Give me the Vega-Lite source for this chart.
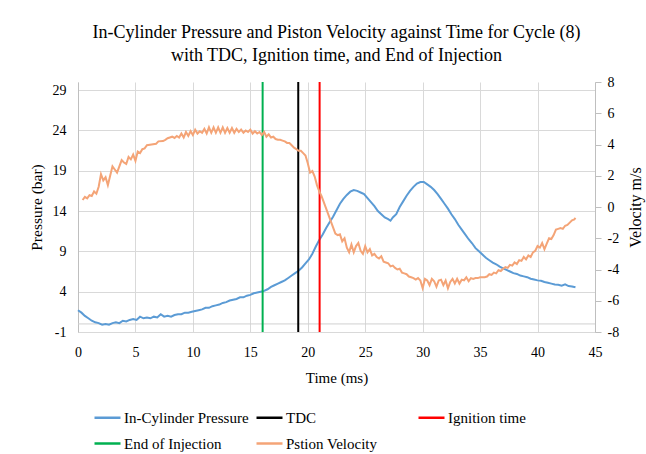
{
  "$schema": "https://vega.github.io/schema/vega-lite/v6.json",
  "width": 517,
  "height": 250,
  "autosize": {"type": "none"},
  "padding": {"left": 78, "top": 82, "right": 51, "bottom": 122},
  "background": "white",
  "config": {
    "font": "Liberation Serif",
    "view": {"stroke": null},
    "style": {"guide-label": {"font": "Liberation Serif"}, "guide-title": {"font": "Liberation Serif"}},
    "axis": {"labelFont": "Liberation Serif", "titleFont": "Liberation Serif", "labelColor": "#000000", "titleColor": "#000000", "titleFontWeight": "normal", "labelFontSize": 14, "titleFontSize": 15, "gridColor": "#D9D9D9", "gridWidth": 1, "domainColor": "#BFBFBF", "labelExpr": "'' + datum.value"},
    "legend": {
      "orient": "none", "legendX": 15, "legendY": 321, "direction": "horizontal", "columns": 3, "gridAlign": "all",
      "columnPadding": 2, "rowPadding": 3, "symbolType": "stroke", "symbolSize": 676, "symbolStrokeWidth": 2.5,
      "labelFont": "Liberation Serif", "labelFontSize": 15, "labelColor": "#000000", "labelOffset": 2, "labelLimit": 300
    },
    "title": {"font": "Liberation Serif", "fontSize": 18, "fontWeight": "normal", "color": "#000000"}
  },
  "title": {
    "text": ["In-Cylinder Pressure and Piston Velocity against Time for Cycle (8)", "with TDC, Ignition time, and End of Injection"],
    "anchor": "middle", "lineHeight": 23, "offset": 10
  },
  "datasets": {
    "pressure": [
      {"t": 0.0, "p": 1.7}, {"t": 0.3, "p": 1.4}, {"t": 0.6, "p": 1.0}, {"t": 0.9, "p": 0.7}, {"t": 1.2, "p": 0.4}, {"t": 1.5, "p": 0.2},
      {"t": 1.8, "p": 0.1}, {"t": 2.1, "p": -0.1}, {"t": 2.4, "p": 0.0}, {"t": 2.7, "p": -0.1}, {"t": 3.0, "p": 0.1}, {"t": 3.3, "p": 0.2},
      {"t": 3.6, "p": 0.1}, {"t": 3.9, "p": 0.4}, {"t": 4.2, "p": 0.3}, {"t": 4.5, "p": 0.5}, {"t": 4.8, "p": 0.6}, {"t": 5.1, "p": 0.5},
      {"t": 5.4, "p": 0.9}, {"t": 5.7, "p": 0.7}, {"t": 6.0, "p": 0.8}, {"t": 6.3, "p": 0.7}, {"t": 6.6, "p": 0.9}, {"t": 6.9, "p": 0.8},
      {"t": 7.2, "p": 1.2}, {"t": 7.5, "p": 0.9}, {"t": 7.8, "p": 1.0}, {"t": 8.1, "p": 0.9}, {"t": 8.4, "p": 1.1}, {"t": 8.7, "p": 1.2},
      {"t": 9.0, "p": 1.2}, {"t": 9.3, "p": 1.4}, {"t": 9.6, "p": 1.4}, {"t": 9.9, "p": 1.5}, {"t": 10.2, "p": 1.6}, {"t": 10.5, "p": 1.7},
      {"t": 10.8, "p": 1.8}, {"t": 11.1, "p": 2.0}, {"t": 11.4, "p": 2.0}, {"t": 11.7, "p": 2.2}, {"t": 12.0, "p": 2.3}, {"t": 12.3, "p": 2.4},
      {"t": 12.6, "p": 2.6}, {"t": 12.9, "p": 2.7}, {"t": 13.2, "p": 2.9}, {"t": 13.5, "p": 3.0}, {"t": 13.8, "p": 3.1}, {"t": 14.1, "p": 3.3},
      {"t": 14.4, "p": 3.3}, {"t": 14.7, "p": 3.5}, {"t": 15.0, "p": 3.6}, {"t": 15.3, "p": 3.8}, {"t": 15.6, "p": 3.9}, {"t": 15.9, "p": 4.0},
      {"t": 16.2, "p": 4.1}, {"t": 16.5, "p": 4.3}, {"t": 16.8, "p": 4.6}, {"t": 17.1, "p": 4.8}, {"t": 17.4, "p": 5.0}, {"t": 17.7, "p": 5.2},
      {"t": 18.0, "p": 5.4}, {"t": 18.3, "p": 5.7}, {"t": 18.6, "p": 6.0}, {"t": 18.9, "p": 6.3}, {"t": 19.2, "p": 6.6}, {"t": 19.5, "p": 7.0},
      {"t": 19.8, "p": 7.5}, {"t": 20.1, "p": 8.0}, {"t": 20.4, "p": 8.7}, {"t": 20.7, "p": 9.6}, {"t": 21.0, "p": 10.4}, {"t": 21.3, "p": 11.1},
      {"t": 21.6, "p": 11.9}, {"t": 21.9, "p": 12.6}, {"t": 22.2, "p": 13.3}, {"t": 22.5, "p": 14.1}, {"t": 22.8, "p": 14.9}, {"t": 23.1, "p": 15.5},
      {"t": 23.4, "p": 16.0}, {"t": 23.7, "p": 16.4}, {"t": 24.0, "p": 16.6}, {"t": 24.3, "p": 16.5}, {"t": 24.6, "p": 16.3}, {"t": 24.9, "p": 16.1},
      {"t": 25.2, "p": 15.6}, {"t": 25.5, "p": 15.1}, {"t": 25.8, "p": 14.6}, {"t": 26.1, "p": 14.0}, {"t": 26.4, "p": 13.6}, {"t": 26.7, "p": 13.2},
      {"t": 27.0, "p": 13.0}, {"t": 27.2, "p": 12.8}, {"t": 27.4, "p": 13.2}, {"t": 27.7, "p": 13.6}, {"t": 28.0, "p": 14.5}, {"t": 28.3, "p": 15.2},
      {"t": 28.6, "p": 15.9}, {"t": 28.9, "p": 16.5}, {"t": 29.2, "p": 17.0}, {"t": 29.5, "p": 17.4}, {"t": 29.8, "p": 17.6}, {"t": 30.1, "p": 17.6},
      {"t": 30.4, "p": 17.3}, {"t": 30.7, "p": 17.0}, {"t": 31.0, "p": 16.6}, {"t": 31.3, "p": 16.1}, {"t": 31.6, "p": 15.5}, {"t": 31.9, "p": 14.9},
      {"t": 32.2, "p": 14.3}, {"t": 32.5, "p": 13.6}, {"t": 32.8, "p": 13.0}, {"t": 33.1, "p": 12.3}, {"t": 33.4, "p": 11.7}, {"t": 33.7, "p": 11.1},
      {"t": 34.0, "p": 10.5}, {"t": 34.3, "p": 10.0}, {"t": 34.6, "p": 9.4}, {"t": 34.9, "p": 9.0}, {"t": 35.2, "p": 8.6}, {"t": 35.5, "p": 8.2},
      {"t": 35.8, "p": 7.9}, {"t": 36.1, "p": 7.6}, {"t": 36.4, "p": 7.4}, {"t": 36.7, "p": 7.1}, {"t": 37.0, "p": 6.9}, {"t": 37.3, "p": 6.7},
      {"t": 37.6, "p": 6.5}, {"t": 37.9, "p": 6.3}, {"t": 38.2, "p": 6.2}, {"t": 38.5, "p": 6.0}, {"t": 38.8, "p": 5.9}, {"t": 39.1, "p": 5.8},
      {"t": 39.4, "p": 5.6}, {"t": 39.7, "p": 5.5}, {"t": 40.0, "p": 5.4}, {"t": 40.3, "p": 5.35}, {"t": 40.6, "p": 5.2}, {"t": 40.9, "p": 5.1},
      {"t": 41.2, "p": 5.0}, {"t": 41.5, "p": 4.9}, {"t": 41.8, "p": 4.85}, {"t": 42.1, "p": 4.75}, {"t": 42.4, "p": 4.9}, {"t": 42.7, "p": 4.7},
      {"t": 43.0, "p": 4.65}, {"t": 43.3, "p": 4.55}
    ],
    "velocity": [
      {"t": 0.4, "v": 0.45}, {"t": 0.6, "v": 0.65}, {"t": 0.8, "v": 0.55}, {"t": 1.0, "v": 0.75}, {"t": 1.2, "v": 0.7}, {"t": 1.4, "v": 1.0},
      {"t": 1.6, "v": 0.85}, {"t": 1.8, "v": 1.3}, {"t": 2.0, "v": 2.1}, {"t": 2.2, "v": 1.7}, {"t": 2.4, "v": 1.9}, {"t": 2.6, "v": 1.4},
      {"t": 2.8, "v": 2.0}, {"t": 3.0, "v": 2.6}, {"t": 3.2, "v": 2.4}, {"t": 3.4, "v": 2.2}, {"t": 3.6, "v": 2.6}, {"t": 3.8, "v": 3.0},
      {"t": 4.0, "v": 2.85}, {"t": 4.2, "v": 2.75}, {"t": 4.4, "v": 3.2}, {"t": 4.6, "v": 3.05}, {"t": 4.8, "v": 3.35}, {"t": 5.0, "v": 2.95},
      {"t": 5.2, "v": 3.55}, {"t": 5.4, "v": 3.45}, {"t": 5.6, "v": 3.7}, {"t": 5.8, "v": 3.75}, {"t": 6.0, "v": 3.95}, {"t": 6.4, "v": 4.0},
      {"t": 6.8, "v": 4.05}, {"t": 7.0, "v": 4.2}, {"t": 7.4, "v": 4.22}, {"t": 7.6, "v": 4.3}, {"t": 7.8, "v": 4.4}, {"t": 8.0, "v": 4.45},
      {"t": 8.2, "v": 4.5}, {"t": 8.4, "v": 4.42}, {"t": 8.6, "v": 4.55}, {"t": 8.8, "v": 4.45}, {"t": 9.0, "v": 4.7}, {"t": 9.2, "v": 4.45},
      {"t": 9.4, "v": 4.8}, {"t": 9.6, "v": 4.55}, {"t": 9.8, "v": 4.85}, {"t": 10.0, "v": 4.6}, {"t": 10.2, "v": 4.95}, {"t": 10.4, "v": 4.7},
      {"t": 10.6, "v": 4.85}, {"t": 10.8, "v": 4.75}, {"t": 11.0, "v": 5.0}, {"t": 11.2, "v": 4.7}, {"t": 11.4, "v": 5.1}, {"t": 11.6, "v": 4.75},
      {"t": 11.8, "v": 5.1}, {"t": 12.0, "v": 4.75}, {"t": 12.2, "v": 5.1}, {"t": 12.4, "v": 4.75}, {"t": 12.6, "v": 5.1}, {"t": 12.8, "v": 4.75},
      {"t": 13.0, "v": 5.05}, {"t": 13.2, "v": 4.75}, {"t": 13.4, "v": 5.05}, {"t": 13.6, "v": 4.75}, {"t": 13.8, "v": 5.0}, {"t": 14.0, "v": 4.8},
      {"t": 14.2, "v": 4.95}, {"t": 14.4, "v": 4.75}, {"t": 14.6, "v": 4.9}, {"t": 14.8, "v": 4.8}, {"t": 15.0, "v": 4.95}, {"t": 15.2, "v": 4.7},
      {"t": 15.4, "v": 4.85}, {"t": 15.6, "v": 4.7}, {"t": 15.8, "v": 4.8}, {"t": 16.0, "v": 4.6}, {"t": 16.2, "v": 4.8}, {"t": 16.4, "v": 4.5},
      {"t": 16.6, "v": 4.65}, {"t": 16.8, "v": 4.45}, {"t": 17.0, "v": 4.5}, {"t": 17.2, "v": 4.35}, {"t": 17.4, "v": 4.3}, {"t": 17.6, "v": 4.3},
      {"t": 17.8, "v": 4.25}, {"t": 18.0, "v": 4.2}, {"t": 18.2, "v": 4.1}, {"t": 18.4, "v": 4.1}, {"t": 18.6, "v": 3.95}, {"t": 18.8, "v": 3.8},
      {"t": 19.0, "v": 3.7}, {"t": 19.2, "v": 3.6}, {"t": 19.4, "v": 3.6}, {"t": 19.6, "v": 3.45}, {"t": 19.8, "v": 3.3}, {"t": 20.0, "v": 2.8},
      {"t": 20.2, "v": 2.2}, {"t": 20.4, "v": 2.3}, {"t": 20.6, "v": 1.95}, {"t": 20.8, "v": 1.4}, {"t": 21.0, "v": 1.0}, {"t": 21.2, "v": 0.7},
      {"t": 21.4, "v": 0.3}, {"t": 21.6, "v": -0.1}, {"t": 21.8, "v": -0.5}, {"t": 22.0, "v": -0.9}, {"t": 22.2, "v": -1.3}, {"t": 22.4, "v": -1.7},
      {"t": 22.6, "v": -1.8}, {"t": 22.8, "v": -1.75}, {"t": 23.0, "v": -2.2}, {"t": 23.2, "v": -2.0}, {"t": 23.4, "v": -2.6}, {"t": 23.6, "v": -2.9},
      {"t": 23.8, "v": -2.4}, {"t": 24.0, "v": -2.9}, {"t": 24.2, "v": -2.5}, {"t": 24.4, "v": -2.3}, {"t": 24.6, "v": -2.8}, {"t": 24.8, "v": -3.0},
      {"t": 25.0, "v": -2.5}, {"t": 25.2, "v": -2.9}, {"t": 25.4, "v": -2.7}, {"t": 25.6, "v": -3.1}, {"t": 25.8, "v": -3.0}, {"t": 26.0, "v": -3.2},
      {"t": 26.2, "v": -3.3}, {"t": 26.4, "v": -3.15}, {"t": 26.6, "v": -3.5}, {"t": 26.8, "v": -3.55}, {"t": 27.0, "v": -3.6}, {"t": 27.2, "v": -3.8},
      {"t": 27.4, "v": -3.75}, {"t": 27.6, "v": -3.9}, {"t": 27.8, "v": -4.0}, {"t": 28.0, "v": -3.95}, {"t": 28.2, "v": -4.2}, {"t": 28.4, "v": -4.25},
      {"t": 28.6, "v": -4.3}, {"t": 28.8, "v": -4.45}, {"t": 29.0, "v": -4.5}, {"t": 29.2, "v": -4.55}, {"t": 29.4, "v": -4.65}, {"t": 29.6, "v": -4.55},
      {"t": 29.8, "v": -4.7}, {"t": 30.0, "v": -5.2}, {"t": 30.2, "v": -4.6}, {"t": 30.4, "v": -4.7}, {"t": 30.6, "v": -5.0}, {"t": 30.8, "v": -4.6},
      {"t": 31.0, "v": -4.75}, {"t": 31.2, "v": -5.1}, {"t": 31.4, "v": -4.7}, {"t": 31.6, "v": -4.65}, {"t": 31.8, "v": -5.0}, {"t": 32.0, "v": -4.7},
      {"t": 32.2, "v": -5.2}, {"t": 32.4, "v": -4.8}, {"t": 32.6, "v": -4.6}, {"t": 32.8, "v": -4.9}, {"t": 33.0, "v": -4.6}, {"t": 33.2, "v": -4.9},
      {"t": 33.4, "v": -4.65}, {"t": 33.6, "v": -4.7}, {"t": 33.8, "v": -4.5}, {"t": 34.0, "v": -4.75}, {"t": 34.2, "v": -4.55}, {"t": 34.4, "v": -4.6},
      {"t": 34.6, "v": -4.55}, {"t": 34.8, "v": -4.55}, {"t": 35.0, "v": -4.5}, {"t": 35.4, "v": -4.5}, {"t": 35.6, "v": -4.45}, {"t": 35.8, "v": -4.3},
      {"t": 36.0, "v": -4.35}, {"t": 36.2, "v": -4.2}, {"t": 36.4, "v": -4.25}, {"t": 36.6, "v": -4.05}, {"t": 36.8, "v": -4.1}, {"t": 37.0, "v": -3.95},
      {"t": 37.2, "v": -3.85}, {"t": 37.4, "v": -3.9}, {"t": 37.6, "v": -3.7}, {"t": 37.8, "v": -3.75}, {"t": 38.0, "v": -3.55}, {"t": 38.2, "v": -3.65},
      {"t": 38.4, "v": -3.4}, {"t": 38.6, "v": -3.45}, {"t": 38.8, "v": -3.2}, {"t": 39.0, "v": -3.35}, {"t": 39.2, "v": -3.1}, {"t": 39.4, "v": -3.2},
      {"t": 39.6, "v": -2.9}, {"t": 39.8, "v": -2.8}, {"t": 40.0, "v": -2.5}, {"t": 40.2, "v": -2.6}, {"t": 40.4, "v": -2.3}, {"t": 40.6, "v": -2.7},
      {"t": 40.8, "v": -2.35}, {"t": 41.0, "v": -2.0}, {"t": 41.2, "v": -2.05}, {"t": 41.4, "v": -1.8}, {"t": 41.6, "v": -1.45}, {"t": 41.8, "v": -1.4},
      {"t": 42.0, "v": -1.35}, {"t": 42.2, "v": -1.4}, {"t": 42.4, "v": -1.2}, {"t": 42.6, "v": -1.15}, {"t": 42.8, "v": -1.0}, {"t": 43.0, "v": -0.85},
      {"t": 43.2, "v": -0.8}, {"t": 43.3, "v": -0.7}
    ],
    "events": [
      {"t": 19.17, "series": "TDC"},
      {"t": 21.03, "series": "Ignition time"},
      {"t": 16.07, "series": "End of Injection"}
    ]
  },
  "layer": [
    {
      "layer": [
        {
          "data": {"values": [{"p": 0}]},
          "mark": {"type": "rule", "color": "#D0D0D0", "strokeWidth": 1},
          "encoding": {
            "y": {"field": "p", "type": "quantitative", "scale": {"domain": [-1, 30], "nice": false, "zero": false}}
          }
        },
        {
          "data": {"name": "pressure"},
          "mark": {"type": "line", "strokeWidth": 2},
          "encoding": {
            "x": {"field": "t", "type": "quantitative", "scale": {"domain": [0, 45], "nice": false},
                  "axis": {"title": "Time  (ms)", "values": [0, 5, 10, 15, 20, 25, 30, 35, 40, 45], "grid": true, "ticks": false, "labelFlush": false, "labelFont": "Liberation Serif", "labelPadding": 13, "titlePadding": 11, "domainColor": "#D9D9D9"}},
            "y": {"field": "p", "type": "quantitative", "scale": {"domain": [-1, 30], "nice": false, "zero": false},
                  "axis": {"orient": "left", "title": "Pressure (bar)", "titleFontSize": 15.5, "labelFont": "Liberation Serif", "values": [-1, 4, 9, 14, 19, 24, 29], "grid": true, "ticks": false, "labelPadding": 12, "titlePadding": 8}},
            "color": {"datum": "In-Cylinder Pressure", "title": null,
                      "scale": {"domain": ["In-Cylinder Pressure", "TDC", "Ignition time", "End of Injection", "Pstion Velocity"], "range": ["#5B9BD5", "#000000", "#FF0000", "#00B050", "#F4A477"]}}
          }
        }
      ]
    },
    {
      "data": {"name": "events"},
      "mark": {"type": "rule", "strokeWidth": 2},
      "encoding": {
        "x": {"field": "t", "type": "quantitative"},
        "color": {"field": "series", "type": "nominal", "title": null}
      }
    },
    {
      "data": {"name": "velocity"},
      "mark": {"type": "line", "strokeWidth": 2},
      "encoding": {
        "x": {"field": "t", "type": "quantitative"},
        "y": {"field": "v", "type": "quantitative", "scale": {"domain": [-8, 8], "nice": false},
              "axis": {"orient": "right", "title": "Velocity  m/s", "titleFontSize": 16, "titleAngle": -90, "labelFont": "Liberation Serif", "values": [-8, -6, -4, -2, 0, 2, 4, 6, 8], "grid": false, "ticks": true, "tickSize": 6, "tickColor": "#BFBFBF", "labelPadding": 6, "titlePadding": 25}},
        "color": {"datum": "Pstion Velocity", "title": null}
      }
    }
  ],
  "resolve": {"scale": {"y": "independent"}}
}
